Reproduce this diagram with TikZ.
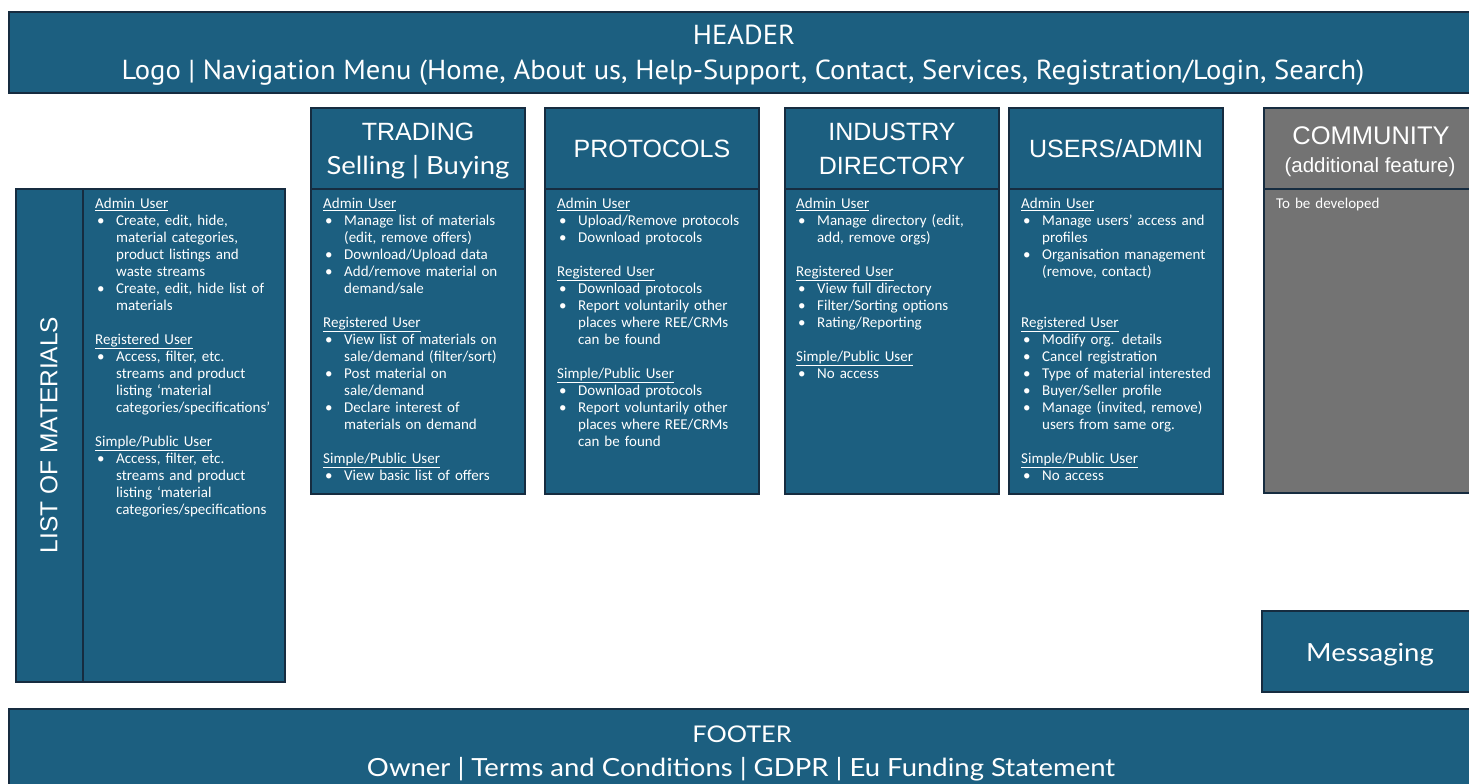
\documentclass[tikz,border=0pt]{standalone}
\usepackage{fontspec}
\setmainfont{Carlito}
\newfontfamily\ttlfont{Liberation Sans}
\newfontfamily\hdrfont[FakeStretch=1.04]{PT Sans}
\newfontfamily\aptfont[FakeStretch=1.1]{Lato}

\definecolor{panel}{RGB}{28,95,128}
\definecolor{panelgrey}{RGB}{115,115,115}
\definecolor{edge}{RGB}{22,44,64}

% group heading and bullet item inside a column
\newcommand{\grp}[1]{\noindent\underline{#1}\par}
\newcommand{\bul}[1]{\hangindent=21pt\hangafter=1\noindent\makebox[21pt][l]{\hspace{2pt}\textbullet}#1\par}
\newcommand{\blank}{\vskip17pt}

\tikzset{
  panelbox/.style={draw=edge, line width=2pt, fill=panel},
  greybox/.style={draw=edge, line width=2pt, fill=panelgrey},
  divider/.style={draw=edge, line width=2pt},
  body/.style={anchor=north west, inner sep=0pt, text width=205pt, align=left,
    text=white, font=\fontsize{15}{17}\selectfont},
  title/.style={anchor=base, inner sep=0pt, text=white, font=\ttlfont\fontsize{25}{30}\selectfont},
  band/.style={anchor=base, inner sep=0pt, text=white},
}

\begin{document}
\begin{tikzpicture}[x=1pt,y=-1pt]
\useasboundingbox (0,0) rectangle (1469,784);
\fill[white] (0,0) rectangle (1469,784);

% header band
\draw[panelbox] (9,12) rectangle (1480,93);
\node[band, font=\hdrfont\fontsize{27.5}{30}\selectfont] (hdr) at (744,45) {HEADER};
\node[band, font=\hdrfont\fontsize{27.5}{30}\selectfont] (hdrmenu) at (743,79)
  {Logo | Navigation Menu (Home, About us, Help-Support, Contact, Services, Registration/Login, Search)};

% footer band
\draw[panelbox] (9,709) rectangle (1480,800);
\node[band, font=\aptfont\fontsize{23}{28}\selectfont] (ftr) at (742,742) {FOOTER};
\node[band, font=\aptfont\fontsize{25}{30}\selectfont] (ftrlinks) at (741,776)
  {Owner | Terms and Conditions | GDPR | Eu Funding Statement};

% list of materials (side panel)
\draw[panelbox] (16,189) rectangle (285,682);
\draw[divider] (83,189) -- (83,682);
\node[band, rotate=90, anchor=center, font=\ttlfont\fontsize{24.5}{28}\selectfont] (lom) at (49,435) {LIST OF MATERIALS};
\node[body] (lomtxt) at (95,198) {%
\grp{Admin User}
\bul{Create, edit, hide,\newline material categories,\newline product listings and\newline waste streams}
\bul{Create, edit, hide list of\newline materials}
\blank
\grp{Registered User}
\bul{Access, filter, etc.\newline streams and product\newline listing ‘material\newline categories/specifications’}
\blank
\grp{Simple/Public User}
\bul{Access, filter, etc.\newline streams and product\newline listing ‘material\newline categories/specifications}};

% trading
\draw[panelbox] (311,108) rectangle (525,494);
\draw[divider] (311,189) -- (525,189);
\node[title] (trd) at (418,140) {TRADING};
\node[title, font=\aptfont\fontsize{25}{30}\selectfont] (trdsub) at (418,174) {Selling | Buying};
\node[body] (trdtxt) at (323,198) {%
\grp{Admin User}
\bul{Manage list of materials\newline (edit, remove offers)}
\bul{Download/Upload data}
\bul{Add/remove material on\newline demand/sale}
\blank
\grp{Registered User}
\bul{View list of materials on\newline sale/demand (filter/sort)}
\bul{Post material on\newline sale/demand}
\bul{Declare interest of\newline materials on demand}
\blank
\grp{Simple/Public User}
\bul{View basic list of offers}};

% protocols
\draw[panelbox] (545,108) rectangle (759,494);
\draw[divider] (545,189) -- (759,189);
\node[title] (prt) at (652,157) {PROTOCOLS};
\node[body] (prttxt) at (557,198) {%
\grp{Admin User}
\bul{Upload/Remove protocols}
\bul{Download protocols}
\blank
\grp{Registered User}
\bul{Download protocols}
\bul{Report voluntarily other\newline places where REE/CRMs\newline can be found}
\blank
\grp{Simple/Public User}
\bul{Download protocols}
\bul{Report voluntarily other\newline places where REE/CRMs\newline can be found}};

% industry directory
\draw[panelbox] (785,108) rectangle (999,494);
\draw[divider] (785,189) -- (999,189);
\node[title] (ind) at (892,140) {INDUSTRY};
\node[title] (indsub) at (892,174) {DIRECTORY};
\node[body] (indtxt) at (796,198) {%
\grp{Admin User}
\bul{Manage directory (edit,\newline add, remove orgs)}
\blank
\grp{Registered User}
\bul{View full directory}
\bul{Filter/Sorting options}
\bul{Rating/Reporting}
\blank
\grp{Simple/Public User}
\bul{No access}};

% users / admin
\draw[panelbox] (1009,108) rectangle (1223,494);
\draw[divider] (1009,189) -- (1223,189);
\node[title] (usr) at (1116,157) {USERS/ADMIN};
\node[body] (usrtxt) at (1021,198) {%
\grp{Admin User}
\bul{Manage users’ access and\newline profiles}
\bul{Organisation management\newline (remove, contact)}
\blank\blank
\grp{Registered User}
\bul{Modify org. details}
\bul{Cancel registration}
\bul{Type of material interested}
\bul{Buyer/Seller profile}
\bul{Manage (invited, remove)\newline users from same org.}
\blank
\grp{Simple/Public User}
\bul{No access}};

% community (grey, additional feature)
\draw[greybox] (1264,108) rectangle (1480,493);
\draw[divider] (1264,189) -- (1480,189);
\node[title, font=\ttlfont\fontsize{25.5}{30}\selectfont] (com) at (1371,144) {COMMUNITY};
\node[title, font=\ttlfont\fontsize{20.5}{24}\selectfont] (comsub) at (1370,172) {(additional feature)};
\node[body] (comtxt) at (1276,198) {To be developed};

% messaging
\draw[panelbox] (1262,611) rectangle (1480,692);
\node[band, font=\aptfont\fontsize{25}{28}\selectfont] (msg) at (1370,661) {Messaging};
\end{tikzpicture}
\end{document}
